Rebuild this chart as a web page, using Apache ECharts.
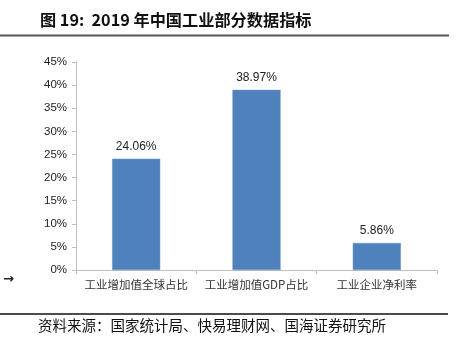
<!DOCTYPE html>
<html>
<head>
<meta charset="utf-8">
<script src="https://cdn.jsdelivr.net/npm/echarts@6/dist/echarts.min.js"></script>
<style>html,body{margin:0;padding:0;background:#fff;}#c{width:457px;height:346px;}</style>
</head>
<body>
<div id="c"></div>
<script>
var categories = ['工业增加值全球占比', '工业增加值GDP占比', '工业企业净利率'];
var values = [24.06, 38.97, 5.86];
var yTicks = { min: 0, max: 45, interval: 5 };
var titleText = '图 19:  2019 年中国工业部分数据指标';
var sourceText = '资料来源：国家统计局、快易理财网、国海证券研究所';

var chart = echarts.init(document.getElementById('c'), null, { renderer: 'canvas' });
chart.setOption({
  animation: false,
  backgroundColor: '#fff',
  title: {
    text: titleText,
    left: 35, top: 7,
    textStyle: { fontFamily: '"Noto Sans CJK SC", "Liberation Sans", sans-serif', fontSize: 16.2, fontWeight: 'bold', color: '#111' }
  },
  grid: { left: 76, right: 20, top: 62, bottom: 76, containLabel: false },
  xAxis: {
    type: 'category',
    data: categories,
    axisLine: { lineStyle: { color: '#bfbfbf', width: 1 } },
    axisTick: { show: true, length: 4, lineStyle: { color: '#bfbfbf' } },
    axisLabel: { color: '#333', fontSize: 11.5, margin: 9, fontFamily: '"Noto Sans CJK SC", serif', interval: 0 }
  },
  yAxis: {
    type: 'value',
    min: yTicks.min, max: yTicks.max, interval: yTicks.interval,
    axisLine: { show: true, lineStyle: { color: '#bfbfbf', width: 1 } },
    axisTick: { show: true, inside: false, length: 4, lineStyle: { color: '#bfbfbf' } },
    splitLine: { show: false },
    axisLabel: { color: '#222', fontSize: 11.5, margin: 9, fontFamily: '"Liberation Sans", Arial, sans-serif', formatter: '{value}%' }
  },
  series: [{
    type: 'bar',
    data: values,
    barWidth: '40%',
    itemStyle: { color: '#4F81BD', borderColor: '#6f97c9', borderWidth: 0.5 },
    label: {
      show: true, position: 'top', distance: 6,
      color: '#222', fontSize: 12, fontFamily: '"Liberation Sans", Arial, sans-serif',
      formatter: function (p) { return p.value.toFixed(2) + '%'; }
    }
  }],
  graphic: [
    { type: 'line', shape: { x1: 0, y1: 35.5, x2: 449, y2: 35.5 }, style: { stroke: '#555', lineWidth: 2 } },
    { type: 'line', shape: { x1: 0, y1: 314, x2: 448, y2: 314 }, style: { stroke: '#111', lineWidth: 1.5 } },
    { type: 'text', left: 38, top: 318, style: { text: sourceText, fill: '#111', fontSize: 14.5, fontFamily: '"Noto Sans CJK SC", serif' } },
    { type: 'text', left: 3, top: 273, style: { text: '→', fill: '#222', fontSize: 13, fontWeight: 'bold', fontFamily: '"DejaVu Sans", sans-serif' } }
  ]
});
</script>
</body>
</html>
